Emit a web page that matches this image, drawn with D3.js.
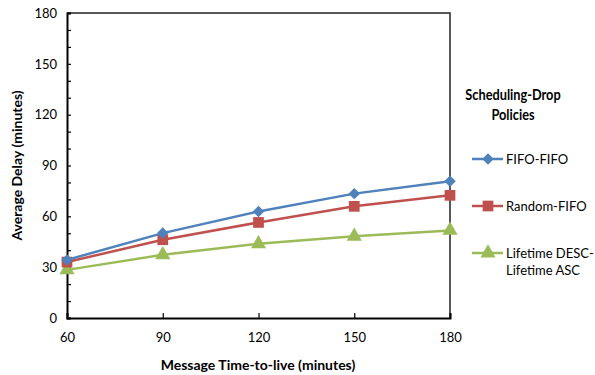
<!DOCTYPE html>
<html>
<head>
<meta charset="utf-8">
<script src="https://cdn.jsdelivr.net/npm/d3@7"></script>
<style>
  body { margin: 0; background: #fff; }
  text { font-family: Lato, "Open Sans", sans-serif; fill: #000; }
</style>
</head>
<body>
<div id="chart"></div>
<script>
    // Data
    const ttl = [60, 90, 120, 150, 180];
    const fifoFifo = [34.3, 50.1, 62.9, 73.4, 80.7];
    const randomFifo = [33.0, 46.2, 56.4, 65.9, 72.4];
    const lifetime = [28.4, 37.3, 43.8, 48.2, 51.7];
    const yTicks = [0, 30, 60, 90, 120, 150, 180];
    const seriesNames = ["FIFO-FIFO", "Random-FIFO", "Lifetime DESC-|Lifetime ASC"];

    const margin = { top: 13, right: 145, bottom: 57, left: 67 };
    const width = 595 - margin.left - margin.right;
    const height = 375 - margin.top - margin.bottom;

    const svg = d3.select("#chart")
        .append("svg")
        .attr("width", 595)
        .attr("height", 375);

    const g = svg.append("g")
        .attr("transform", `translate(${margin.left},${margin.top})`);

    const x = d3.scaleLinear().domain([60, 180]).range([0, width]);
    const y = d3.scaleLinear().domain([0, 180]).range([height, 0]);

    // Plot border (top and right)
    g.append("path")
        .attr("d", `M0,0H${width}V${height}`)
        .attr("fill", "none")
        .attr("stroke", "#222")
        .attr("stroke-width", 1.5);

    // Y axis with minor ticks every 10
    const yAxis = g.append("g")
        .call(d3.axisLeft(y).tickValues(d3.range(0, 181, 10)).tickSize(-4).tickFormat(d => yTicks.includes(d) ? d : ""));
    yAxis.select(".domain").attr("stroke-width", 2);
    yAxis.selectAll(".tick line").attr("stroke-width", 1.2);
    yAxis.selectAll(".tick text").attr("x", -10).style("font-size", "13px");

    // X axis
    const xAxis = g.append("g")
        .attr("transform", `translate(0,${height})`)
        .call(d3.axisBottom(x).tickValues(ttl).tickSize(-5));
    xAxis.select(".domain").attr("stroke-width", 2);
    xAxis.selectAll(".tick line").attr("stroke-width", 1.2);
    xAxis.selectAll(".tick text").attr("y", 15).style("font-size", "13px");
    svg.selectAll(".domain").attr("stroke", "#000");

    // Axis titles
    svg.append("text")
        .attr("x", 258)
        .attr("y", 370)
        .attr("text-anchor", "middle")
        .style("font-size", "14px")
        .style("font-weight", "bold")
        .text("Message Time-to-live (minutes)");

    svg.append("text")
        .attr("transform", `translate(22,${margin.top + height / 2}) rotate(-90)`)
        .attr("text-anchor", "middle")
        .style("font-size", "14px")
        .style("font-weight", "bold")
        .text("Average Delay (minutes)");

    const series = [
        { name: seriesNames[0], values: fifoFifo, color: "#4F81BD", symbol: "diamond" },
        { name: seriesNames[1], values: randomFifo, color: "#C0504D", symbol: "square" },
        { name: seriesNames[2], values: lifetime, color: "#9BBB59", symbol: "triangle" }
    ];

    const line = d3.line()
        .x((d, i) => x(ttl[i]))
        .y(d => y(d));

    // Diamond is a square turned 45 degrees, like the spreadsheet marker
    const markerPath = s => s === "triangle"
        ? d3.symbol().type(d3.symbolTriangle).size(100)()
        : d3.symbol().type(d3.symbolSquare).size(s === "square" ? 115 : 66)();
    const markerRot = s => s === "diamond" ? " rotate(45)" : "";

    // Draw from back to front like the original
    series.slice().reverse().forEach(s => {
        g.append("path")
            .datum(s.values)
            .attr("fill", "none")
            .attr("stroke", s.color)
            .attr("stroke-width", 2.5)
            .attr("d", line);
        g.selectAll(null)
            .data(s.values)
            .enter().append("path")
            .attr("transform", (d, i) => `translate(${x(ttl[i])},${y(d)})${markerRot(s.symbol)}`)
            .attr("d", markerPath(s.symbol))
            .attr("fill", s.color);
    });

    // Legend
    const legend = svg.append("g");
    ["Scheduling-Drop", "Policies"].forEach((t, j) => {
        legend.append("text")
            .attr("transform", `translate(513,${100 + j * 20}) scale(0.88,1)`)
            .attr("text-anchor", "middle")
            .style("font-size", "14.5px").style("font-weight", "bold")
            .text(t);
    });

    const legendY = [159, 206, 253];
    series.forEach((s, i) => {
        const ly = legendY[i];
        legend.append("line")
            .attr("x1", 472).attr("x2", 503)
            .attr("y1", ly).attr("y2", ly)
            .attr("stroke", s.color).attr("stroke-width", 2.5);
        legend.append("path")
            .attr("transform", `translate(488,${ly})${markerRot(s.symbol)}`)
            .attr("d", markerPath(s.symbol))
            .attr("fill", s.color);
        s.name.split("|").forEach((t, j) => {
            legend.append("text")
                .attr("x", 506).attr("y", ly + 4.5 + j * 17)
                .style("font-size", "13px")
                .text(t);
        });
    });
</script>
</body>
</html>
